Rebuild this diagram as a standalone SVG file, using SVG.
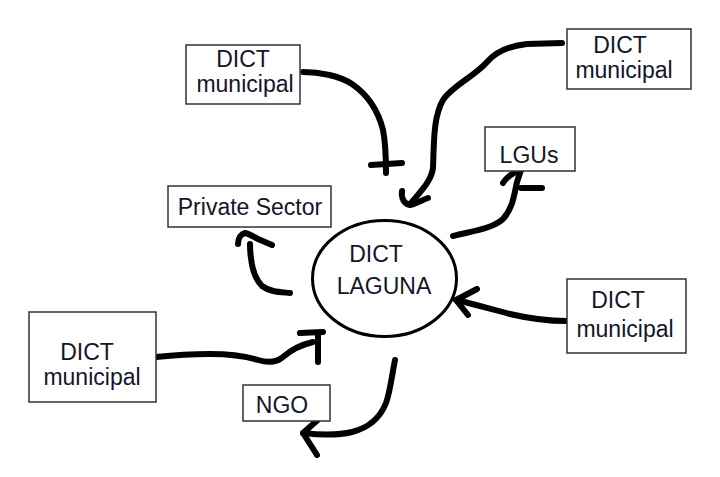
<svg xmlns="http://www.w3.org/2000/svg" width="720" height="477" viewBox="0 0 720 477">
<style>
.box{fill:#fff;stroke:#333;stroke-width:1.5}
.t{font-family:"Liberation Sans",Arial,sans-serif;font-size:23px;fill:#14142a;text-anchor:middle}
.c{fill:none;stroke:#000;stroke-width:6;stroke-linecap:round;stroke-linejoin:round}
</style>
<rect width="720" height="477" fill="#fff"/>
<g id="connectors">
<path class="c" d="M303,72 C320,72 340,76 352,84 C368,95 378,110 383,130 C386,145 386,160 386,173"/>
<path class="c" d="M371,165 L402,163"/>
<path class="c" d="M562,43 L527,44 C507,46 495,53 487,62 C475,76 452,86 443,100 C433,117 434,145 433,168 C431,182 420,192 411,203"/>
<path class="c" d="M402,191 C401,198 404,204 410,205 C416,204 422,200 428,198"/>
<path class="c" d="M453,236 C472,231 492,229 503,219 C513,208 514,195 517,182 L521,170"/>
<path class="c" d="M521,170 C513,172 506,178 503,183"/>
<path class="c" d="M521,188 L542,188"/>
<path class="c" d="M290,293 C280,292 270,292 262,286 C254,278 252,268 251,258 C250,252 250,248 250,244"/>
<path class="c" d="M238,244 C238,238 241,234 245,233 C250,234 254,237 258,239 L272,245"/>
<path class="c" d="M156,357 C175,355 192,354 210,354 C230,354 245,356 258,360 C268,363 276,363 283,357 C291,350 300,345 313,342"/>
<path class="c" d="M300,333 L323,332"/>
<path class="c" d="M318,334 L318,362"/>
<path class="c" d="M395,360 C392,375 390,392 386,403 C380,418 368,428 352,432 C340,435 320,435 303,433"/>
<path class="c" d="M320,418 L303,433 L317,455"/>
<path class="c" d="M567,321 C547,321 527,318 510,314 C490,309 470,303 456,300"/>
<path class="c" d="M477,289 L456,300 L468,315"/>
</g>
<g id="n-top-left">
<rect class="box" x="186" y="45" width="114" height="59"/>
<text class="t" x="243" y="67">DICT</text>
<text class="t" x="245" y="92">municipal</text>
</g>
<g id="n-top-right">
<rect class="box" x="567" y="29" width="124" height="60"/>
<text class="t" x="620" y="53">DICT</text>
<text class="t" x="624" y="78">municipal</text>
</g>
<g id="n-lgus">
<rect class="box" x="485" y="127" width="90" height="44"/>
<text class="t" x="529" y="163">LGUs</text>
</g>
<g id="n-private">
<rect class="box" x="168" y="186" width="163" height="41"/>
<text class="t" x="250" y="215">Private Sector</text>
</g>
<g id="n-laguna">
<ellipse cx="384.5" cy="278.5" rx="72" ry="58" fill="#fff" stroke="#000" stroke-width="3"/>
<text class="t" x="376" y="262">DICT</text>
<text class="t" x="384" y="294">LAGUNA</text>
</g>
<g id="n-right">
<rect class="box" x="567" y="279" width="119" height="74"/>
<text class="t" x="618" y="308">DICT</text>
<text class="t" x="625" y="337">municipal</text>
</g>
<g id="n-bottom-left">
<rect class="box" x="29" y="312" width="127" height="90"/>
<text class="t" x="87" y="360">DICT</text>
<text class="t" x="92" y="385">municipal</text>
</g>
<g id="n-ngo">
<rect class="box" x="243" y="385" width="87" height="36"/>
<text class="t" x="282" y="413">NGO</text>
</g>
</svg>
